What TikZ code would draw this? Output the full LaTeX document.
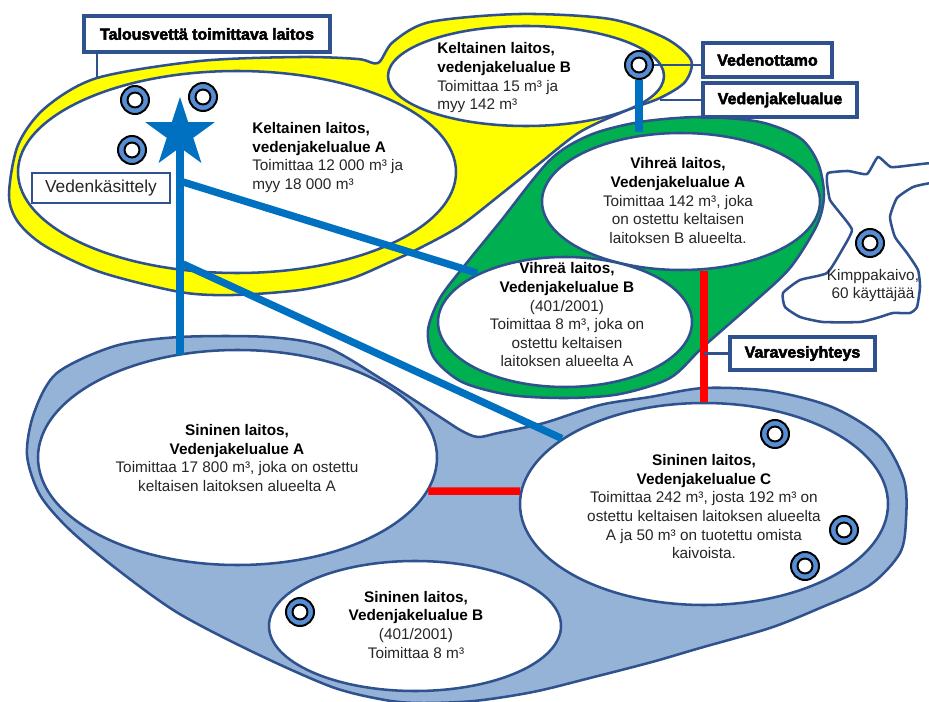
\documentclass[tikz,border=0pt]{standalone}
\usepackage{fontspec}
\setmainfont{Liberation Sans}
\newfontfamily\heavyfont[FakeBold=3]{Liberation Sans Bold}
\usetikzlibrary{shapes.geometric}
\definecolor{outl}{RGB}{47,82,143}
\definecolor{yel}{RGB}{255,255,0}
\definecolor{grn}{RGB}{0,176,80}
\definecolor{lblue}{RGB}{149,179,215}
\definecolor{pipec}{RGB}{0,112,192}
\definecolor{ringc}{RGB}{85,142,213}
\definecolor{redl}{RGB}{255,0,0}
\newcommand\bodyfont{\fontsize{11.5pt}{13.95pt}\selectfont}
\newcommand\kimpfont{\fontsize{11.5pt}{13.5pt}\selectfont}
\newcommand\labelfont{\fontsize{12pt}{14pt}\selectfont\heavyfont}
\newcommand\hd[1]{\textbf{\color{black}#1}}
\begin{document}
\begin{tikzpicture}[x=0.75pt,y=-0.75pt,
  region/.style={draw=outl, line width=1.9pt, line join=round},
  ell/.style n args={2}{ellipse, draw=outl, line width=1.9pt, fill=white, inner sep=0pt,
      minimum width={#1*1.5pt}, minimum height={#2*1.5pt}},
  pipeline/.style={draw=pipec, line width=5.5pt},
  redline/.style={draw=redl, line width=5.5pt},
  conn/.style={draw=outl, line width=1.9pt},
  lbl/.style={draw=outl, line width=2.4pt, fill=white, inner sep=0pt, font=\labelfont, text=black},
  well/.style={circle, draw=black, line width=1.5pt, fill=ringc, minimum size=21pt, inner sep=0pt,
      path picture={\draw[black, line width=1.5pt, fill=white] (path picture bounding box.center) circle (5.6pt);}},
  txt/.style={font=\bodyfont, text=black!85, inner sep=0pt}
]
\useasboundingbox (0,0) rectangle (929,702);

% yellow region
\draw[region, fill=yel] plot[smooth cycle, tension=0.5] coordinates {
 (9,195) (18,145) (45,108) (97,78) (200,61) (300,57) (358,59) (378,63) (393,42) (430,22)
 (520,14) (610,19) (665,38) (691,60) (685,82) (660,98) (625,111) (580,132) (540,163)
 (500,195) (460,226) (420,248) (390,262) (350,279) (300,290) (233,295) (180,292)
 (100,272) (45,246) (18,222)};

% green region
\draw[region, fill=grn] plot[smooth cycle, tension=0.5] coordinates {
 (590,135) (640,122) (700,117) (760,122) (800,138) (818,163) (824,195) (817,225)
 (790,268) (753,303) (703,347) (670,378) (620,394) (567,398) (510,395) (462,382)
 (434,358) (428,330) (440,298) (465,265) (500,222) (550,160)};

% blue region
\draw[region, fill=lblue] plot[smooth cycle, tension=0.5] coordinates {
 (27,455) (34,413) (57,373) (115,346) (180,337) (268,337) (326,347) (383,380) (440,417)
 (462,431) (478,437) (498,433) (544,423) (600,405) (650,397) (704,388) (770,391) (832,407)
 (880,437) (904,480) (906,520) (900,553) (870,585) (820,608) (770,628) (700,648) (652,662)
 (590,678) (533,692) (474,701) (420,703) (385,700) (332,687) (255,653) (178,613) (118,570)
 (70,530) (40,495)};

% Kimppakaivo area
\draw[region, fill=white] plot[smooth cycle, tension=0.3] coordinates {
 (828,173) (848,171) (867,174) (878,157) (891,167) (913,165) (929,163.3) (945,165)
 (945,182) (929,183.3) (913,187) (897,198) (890,217) (895,237) (907,253) (918,270)
 (920,287) (917,307) (910,313) (893,313) (880,317) (860,322) (823,322) (800,317)
 (785,307) (783,293) (800,280) (827,273) (842,250) (852,230) (840,213) (830,200) (827,183)};

% white ellipses
\node[ell={219}{101}] (KA) at (237,172) {};
\node[ell={138}{50}] (KB) at (526,76) {};
\node[ell={139}{68.5}] (VA) at (681,201.5) {};
\node[ell={127}{65}] (VB) at (565,322) {};
\node[ell={199.5}{107.5}] (SA) at (237.5,457.5) {};
\node[ell={146}{65}] (SB) at (415,626) {};
\node[ell={184}{101}] (SC) at (704,504) {};

% pipelines
\coordinate (vtop) at (180,133.5);
\coordinate (vbot) at (180,355);
\coordinate (d1s) at (183,182);
\coordinate (d1e) at (477,273);
\coordinate (d2s) at (183,264);
\draw[pipeline] (vtop) -- (vbot);
\draw[pipeline] (d1s) -- (d1e);
\draw[pipeline] (d2s) -- (SC);
\node[star, star points=5, star point ratio=2.618, fill=pipec, minimum size=54.75pt, inner sep=0pt] (star) at (vtop) {};

% wells
\node[well] (W0) at (639,65) {};
\draw[pipeline] (W0.south) -- (W0.south |- VA.north);
\node[well] (w1) at (135,100) {};
\node[well] (w2) at (203,97) {};
\node[well] (w3) at (132,150) {};
\node[well] (wk) at (870,243) {};
\node[well] (wc1) at (775,434) {};
\node[well] (wc2) at (844,530) {};
\node[well] (wc3) at (805,566) {};
\node[well] (wb) at (300,612) {};

% backup connections
\draw[redline] (SC.north |- VA.south) -- (SC.north);
\draw[redline] (SA.-10.3) -- (SC.176.3);

% labels
\node[lbl, minimum width=184.5pt, minimum height=27pt] (LT) at (207,34) {Talousvettä toimittava laitos};
\coordinate (ta) at (97,78);
\draw[conn] (ta |- LT.south) -- (ta);
\node[lbl, minimum width=96.75pt, minimum height=25.5pt] (LO) at (767.5,60) {Vedenottamo};
\draw[conn] (W0.east) -- (W0.east -| LO.west);
\node[lbl, minimum width=115.5pt, minimum height=25.5pt] (LJ) at (780,100) {Vedenjakelualue};
\coordinate (ja) at (660,100);
\draw[conn] (LJ.west) -- (ja);
\node[lbl, minimum width=108.75pt, minimum height=24.75pt] (LV) at (802.5,353.5) {Varavesiyhteys};
\draw[conn] (LV.west) -- (LV.west -| SC.north);
\node[draw=outl, line width=1.3pt, fill=white, minimum width=103.5pt, minimum height=22.5pt, inner sep=0pt,
      font=\fontsize{13pt}{15pt}\selectfont, text=black!85] (VK) at (101,188) {Vedenkäsittely};

% texts
\node[txt, align=left, anchor=north west] (tKB) at (437,42.6)
  {\hd{Keltainen laitos,}\\ \hd{vedenjakelualue B}\\ Toimittaa 15 m³ ja\\ myy 142 m³};
\node[txt, align=left, anchor=north west] (tKA) at (252,122.3)
  {\hd{Keltainen laitos,}\\ \hd{vedenjakelualue A}\\ Toimittaa 12 000 m³ ja\\ myy 18 000 m³};
\node[txt, align=center, anchor=north] (tVA) at (678,157.6)
  {\hd{Vihreä laitos,}\\ \hd{Vedenjakelualue A}\\ Toimittaa 142 m³, joka\\ on ostettu keltaisen\\ laitoksen B alueelta.};
\node[txt, align=center, anchor=north] (tVB) at (567,262.6)
  {\hd{Vihreä laitos,}\\ \hd{Vedenjakelualue B}\\ (401/2001)\\ Toimittaa 8 m³, joka on\\ ostettu keltaisen\\ laitoksen alueelta A};
\node[txt, align=center, anchor=north] (tSA) at (237,424.3)
  {\hd{Sininen laitos,}\\ \hd{Vedenjakelualue A}\\ Toimittaa 17 800 m³, joka on ostettu\\ keltaisen laitoksen alueelta A};
\node[txt, align=center, anchor=north] (tSC) at (704,454.3)
  {\hd{Sininen laitos,}\\ \hd{Vedenjakelualue C}\\ Toimittaa 242 m³, josta 192 m³ on\\ ostettu keltaisen laitoksen alueelta\\ A ja 50 m³ on tuotettu omista\\ kaivoista.};
\node[txt, align=center, anchor=north] (tSB) at (416,591)
  {\hd{Sininen laitos,}\\ \hd{Vedenjakelualue B}\\ (401/2001)\\ Toimittaa 8 m³};
\node[txt, font=\kimpfont, align=center, anchor=north] (tK) at (873,269.3)
  {Kimppakaivo,\\ 60 käyttäjää};
\end{tikzpicture}
\end{document}
